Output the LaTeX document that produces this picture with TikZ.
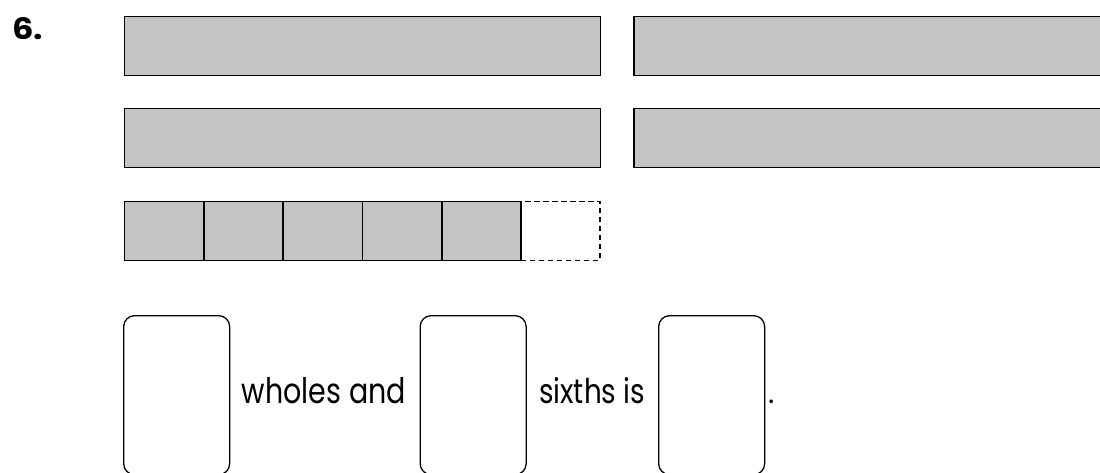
\documentclass[tikz,border=0pt]{standalone}
\usepackage{fontspec}
\setmainfont{Poppins}
\usetikzlibrary{positioning}
\definecolor{bargray}{HTML}{C4C4C4}
\tikzset{
  bar/.style={draw=black, fill=bargray, line width=1.8pt, rectangle, inner sep=0pt, minimum height=59pt, anchor=north west},
  sq/.style={bar, minimum width=79.33pt},
  dashbox/.style={draw=black, dashed, dash pattern=on 5.5pt off 3.5pt, line width=1.6pt, rectangle, inner sep=0pt, minimum width=79pt, minimum height=59pt, anchor=north west},
  answer/.style={draw=black, line width=1.3pt, rounded corners=11pt, rectangle, inner sep=0pt, minimum width=106pt, minimum height=159pt, anchor=north west},
  lbl/.style={inner sep=0pt, anchor=base west}
}
\begin{document}
\begin{tikzpicture}[x=1pt,y=-1pt]
\useasboundingbox (0,0) rectangle (1100,472);
\fill[white] (0,0) rectangle (1100,472);
% number
\node[lbl] (num) at (12,39) {\resizebox{31pt}{22pt}{\bfseries 6.}};
% whole bars
\node[bar, minimum width=476pt] (b1) at (123.5,15.5) {};
\node[bar, minimum width=480pt] (b2) at (633.3,15.5) {};
\node[bar, minimum width=476pt] (b3) at (123.5,107.5) {};
\node[bar, minimum width=480pt] (b4) at (633.3,107.5) {};
% sixths
\node[sq] (s1) at (123.5,200.5) {};
\node[sq] (s2) at (202.83,200.5) {};
\node[sq] (s3) at (282.17,200.5) {};
\node[sq] (s4) at (361.5,200.5) {};
\node[sq] (s5) at (440.83,200.5) {};
\node[dashbox] (s6) at (520.17,200.5) {};
\node[sq, fill=none] at (s5.north west) {};
% answer boxes
\node[answer] (a1) at (123,315) {};
\node[answer] (a2) at (419.5,315) {};
\node[answer] (a3) at (658,315) {};
% texts
\node[lbl] (t1) at (241.7,403) {\resizebox{164pt}{26pt}{wholes and}};
\node[lbl] (t2) at (539,403) {\resizebox{106pt}{26pt}{sixths is}};
\node[lbl] (t3) at (768.5,403) {\fontsize{30pt}{30pt}\selectfont .};
\end{tikzpicture}
\end{document}
